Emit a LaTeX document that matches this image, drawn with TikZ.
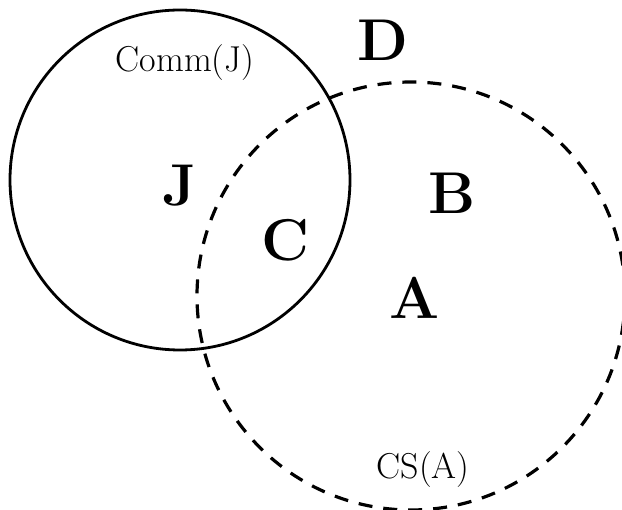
\documentclass[tikz,border=0pt]{standalone}
\begin{document}
\begin{tikzpicture}[x=1pt,y=-1pt,
  lab/.style={font=\fontsize{36}{36}\selectfont, inner sep=0pt},
  big/.style={font=\fontsize{59}{59}\selectfont\bfseries, inner sep=0pt}]
\useasboundingbox (0,0) rectangle (622,510);
\draw[line width=2.8pt] (180,180) circle[radius=170];
\draw[line width=3.2pt, dash pattern=on 14pt off 11pt] (411,296) circle[radius=214];
\node[lab] (comm) at (185,63) {Comm(J)};
\node[lab] (cs) at (423,470) {CS(A)};
\node[big] (D) at (383,40) {D};
\node[big] (J) at (180,186) {J};
\node[big] (C) at (285,240) {C};
\node[big] (B) at (452,193) {B};
\node[big] (A) at (415,298) {A};
\end{tikzpicture}
\end{document}
